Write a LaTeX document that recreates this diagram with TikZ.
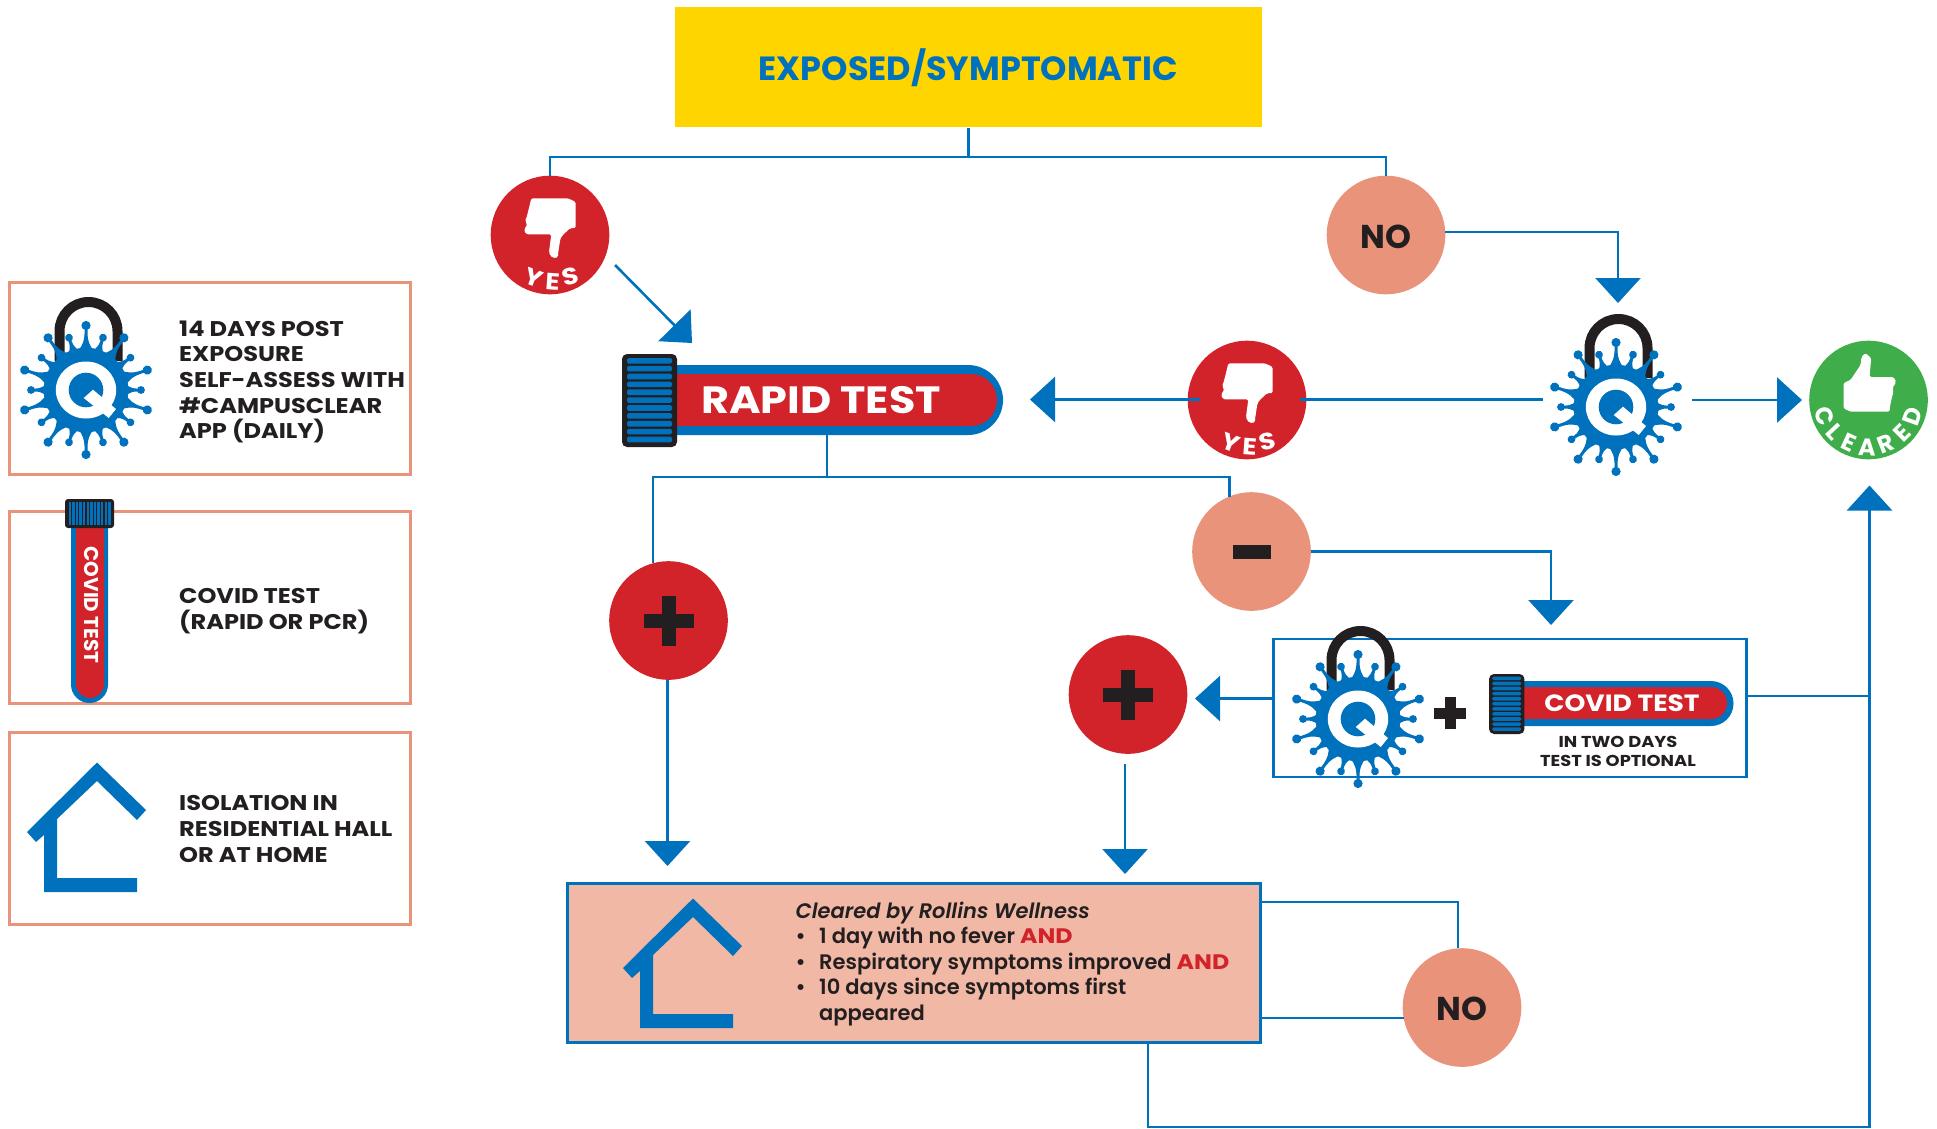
\documentclass[tikz,border=0pt]{standalone}
\usepackage{fontspec}
\setmainfont{Poppins}
\newfontfamily\wpop{Poppins}[FakeStretch=1.13]
\newfontfamily\semipop{Poppins SemiBold}[ItalicFont={Poppins SemiBold Italic}]
\usetikzlibrary{arrows.meta}
\definecolor{qblue}{HTML}{0071BC}
\definecolor{qred}{HTML}{D2232A}
\definecolor{qsal}{HTML}{E8937A}
\definecolor{qpeach}{HTML}{F1B8A5}
\definecolor{qgreen}{HTML}{3FAE4A}
\definecolor{qyel}{HTML}{FFD500}
\definecolor{qdark}{HTML}{231F20}
\newcommand{\qand}{\textcolor{qred}{\wpop\bfseries AND}}
\tikzset{
  conn/.style={draw=qblue,line width=2.6pt},
  arr/.style={conn,-{Triangle[length=25pt,width=45pt]}},
  disc/.style={circle,minimum size=118.6pt,inner sep=0pt,outer sep=0pt},
  legendbox/.style={draw=qsal,line width=3pt,fill=white},
  legendtxt/.style={anchor=west,align=left,inner sep=0pt,text=qdark,font=\wpop\fontsize{21.3}{25.7}\selectfont\bfseries},
  notxt/.style={inner sep=0pt,text=qdark,font=\fontsize{33}{34}\selectfont\bfseries},
  sym/.style={fill=qdark},
  wlet/.style={text=white,inner sep=0pt,font=\wpop\fontsize{23.5}{24}\selectfont\bfseries},
  wletb/.style={wlet,font=\fontsize{24}{25}\selectfont\bfseries}
}
% virus padlock at x,y
\newcommand{\qvirus}[2]{%
 \begin{scope}[shift={(#1,#2)}]
  \draw[qdark,line width=10pt] (-26.5,-29) -- (-26.5,-59) arc[start angle=180,end angle=0,radius=29pt] -- (31.5,-29);
  \foreach \a in {0,36,...,324}{
   \fill[qblue,rotate=\a] (40pt,-5pt) .. controls (44pt,-3pt) and (46pt,-1.6pt) .. (50pt,-1.5pt) -- (55pt,-1.5pt) -- (55pt,1.5pt) -- (50pt,1.5pt) .. controls (46pt,1.6pt) and (44pt,3pt) .. (40pt,5pt) -- cycle;
   \fill[qblue,rotate=\a] (55pt,0pt) circle (3.9pt);}
  \foreach \a in {18,54,...,342}{
   \fill[qblue,rotate=\a] (39pt,-8pt) .. controls (45pt,-3pt) and (50pt,-1.7pt) .. (56pt,-1.5pt) -- (64.5pt,-1.5pt) -- (64.5pt,1.5pt) -- (56pt,1.5pt) .. controls (50pt,1.7pt) and (45pt,3pt) .. (39pt,8pt) -- cycle;
   \fill[qblue,rotate=\a] (64.5pt,0pt) circle (4.6pt);}
  \fill[qblue] (0,0) circle (42.3pt);
  \fill[white] (0,0) ellipse (30.2pt and 28.5pt);
  \fill[qblue] (0,0) circle (17.3pt);
  \fill[white] (-2.3,8) -- (7,-0.3) -- (30,19) -- (22.7,28) -- cycle;
 \end{scope}}
% house
\newcommand{\qhouse}[2]{%
 \fill[qblue,shift={(#1,#2)}] (97,764.5) -- (146,812) -- (137,822) -- (97,783) -- (57,821) -- (57,880) -- (137,880) -- (137,894) -- (44,894) -- (44,837) -- (36,844) -- (27,834) -- cycle;}
% horizontal cap, box 55 x 93 scaled
\newcommand{\qcap}[3]{%
 \begin{scope}[shift={(#1,#2)},xscale=#3,yscale=#3]
  \fill[qdark,rounded corners=5pt] (0,0) rectangle (55,93);
  \foreach \i in {0,...,10}{
   \fill[qblue,rounded corners=1.5pt] (5,{4+\i*7.87}) rectangle (50,{9.6+\i*7.87});}
 \end{scope}}
% thumb down, centred on a disc
\newcommand{\qthumbdown}[2]{%
 \begin{scope}[shift={(#1,#2)}]
  \fill[white,rounded corners=1.5pt] (-18.7,-36.7) -- (18,-36.7) -- (25.7,-33) -- (25.7,-7) -- (20,-6.7) .. controls (15,-2) and (11,1) .. (10,6) -- (8,19) .. controls (8,24) and (1,24) .. (-1,17) -- (1.3,-0.7) -- (-23.7,-0.7) -- (-26,-5) -- (-22.7,-10.7) -- (-25,-14) -- (-23.7,-16.7) -- (-22,-23) -- (-20.3,-30) -- cycle;
  \node[wlet,rotate=-20] (yy#1) at (-16,42.7) {Y};
  \node[wlet,rotate=-4] (ye#1) at (2.5,46.7) {E};
  \node[wlet,rotate=14] (ys#1) at (20,41.7) {S};
 \end{scope}}
\begin{document}
\begin{tikzpicture}[x=1pt,y=-1pt]
\useasboundingbox (0,0) rectangle (1937,1128);
% legend boxes
\draw[legendbox] (9,282) rectangle (410.5,474.5);
\draw[legendbox] (9,511.5) rectangle (410.5,703.5);
\draw[legendbox] (9,732) rectangle (410.5,924);
\qvirus{86}{390}
\node[legendtxt] (t1) at (179,382) {14 DAYS POST\\EXPOSURE\\SELF-ASSESS WITH\\\#CAMPUSCLEAR\\APP (DAILY)};
% legend tube
\fill[qblue] (71,525) -- (108,525) -- (108,684.5) arc[start angle=0,end angle=-180,radius=18.5pt] -- cycle;
\fill[qred] (76,525) -- (104,525) -- (104,684) arc[start angle=0,end angle=-180,radius=14pt] -- cycle;
\fill[qdark,rounded corners=3pt] (65,499) rectangle (114,528);
\foreach \i in {0,...,11}{\fill[qblue] ({68.5+\i*3.6},502) rectangle ({70.9+\i*3.6},525);}
\node[rotate=-90,text=white,inner sep=0pt,font=\fontsize{20}{20}\selectfont\bfseries] (t2a) at (92,605) {COVID TEST};
\node[legendtxt] (t2) at (179,611) {COVID TEST\\(RAPID OR PCR)};
% legend house
\qhouse{0}{-2}
\node[legendtxt] (t3) at (179,829) {ISOLATION IN\\RESIDENTIAL HALL\\OR AT HOME};
% top box
\node[fill=qyel,minimum width=587pt,minimum height=120pt,inner sep=0pt,text=qblue,font=\fontsize{33.5}{34}\selectfont\bfseries] (expo) at (968.3,67.3) {EXPOSED/SYMPTOMATIC};
% discs
\node[disc,fill=qred] (yes1) at (550,235) {};
\node[disc,fill=qsal] (no1) at (1386,235) {};
\node[notxt] (no1t) at (1386,236.7) {NO};
\node[disc,fill=qred] (yes2) at (1247,400) {};
\node[disc,fill=qgreen] (clr) at (1868.5,400) {};
\node[disc,fill=qsal] (minus) at (1251.5,551.5) {};
\node[disc,fill=qred] (plus1) at (668.5,620.5) {};
\node[disc,fill=qred] (plus2) at (1128,694.5) {};
\node[disc,fill=qsal] (no2) at (1462,1007.5) {};
\node[notxt] (no2t) at (1462,1009.2) {NO};
% peach box
\node[draw=qblue,line width=3pt,fill=qpeach,minimum width=693pt,minimum height=159pt,inner sep=0pt] (peach) at (913.5,962.5) {};
\qhouse{596}{134}
\node[anchor=west,align=left,inner sep=0pt,text=qdark,font=\semipop\fontsize{21}{25.5}\selectfont] (ptxt) at (795.5,964) {\textit{Cleared by Rollins Wellness}\\\makebox[23.5pt][l]{•}1 day with no fever \qand\\\makebox[23.5pt][l]{•}Respiratory symptoms improved \qand\\\makebox[23.5pt][l]{•}10 days since symptoms first\\\hspace*{23.5pt}appeared};
% small box
\node[draw=qblue,line width=2.6pt,fill=white,minimum width=473pt,minimum height=138pt,inner sep=0pt] (optbox) at (1510,708) {};
\qvirus{1358}{719}
\fill[sym] (1444.5,697) rectangle (1455.5,729);
\fill[sym] (1434,707.5) rectangle (1466,718.5);
\fill[qblue] (1520,681) -- (1711,681) arc[start angle=90,end angle=-90,radius=22.5pt] -- (1520,726) -- cycle;
\fill[qred] (1520,687) -- (1711,687) arc[start angle=90,end angle=-90,radius=16pt] -- (1520,719) -- cycle;
\qcap{1489}{674}{0.645}
\node[text=white,inner sep=0pt,font=\wpop\fontsize{23.5}{24}\selectfont\bfseries] (cv2) at (1622,703) {COVID TEST};
\node[text=qdark,inner sep=0pt,align=center,font=\wpop\fontsize{15.8}{19}\selectfont\bfseries] (two) at (1618,751.5) {IN TWO DAYS\\TEST IS OPTIONAL};
% rapid test tube
\fill[qblue] (670,365) -- (968,365) arc[start angle=90,end angle=-90,radius=35pt] -- (670,435) -- cycle;
\fill[qred] (670,374) -- (971,374) arc[start angle=90,end angle=-90,radius=26pt] -- (670,426) -- cycle;
\qcap{622}{354}{1}
\node[text=white,inner sep=0pt,font=\wpop\fontsize{38}{40}\selectfont\bfseries] (rapid) at (821,400) {RAPID TEST};
% second/third symbols
\qvirus{1616}{407}
\qthumbdown{550}{235}
\qthumbdown{1247}{400}
\fill[sym] (1232.5,544.5) rectangle (1270.5,558.5);
\fill[sym] (661.5,596) rectangle (675.5,646);
\fill[sym] (643.5,614) rectangle (693.5,628);
\fill[sym] (1121,669.5) rectangle (1135,719.5);
\fill[sym] (1103,687.5) rectangle (1153,701.5);
% cleared disc
\begin{scope}[shift={(1868.5,400)}]
 \fill[white,rounded corners=1.5pt] (-3.3,-47) -- (2.7,-42) -- (1,-23) -- (25,-23) -- (27.7,-18) -- (24,-12) -- (25,-8) -- (24,-5) -- (22,3.3) -- (21,11.7) -- (-18,11.7) -- (-25,8.3) -- (-25,-17) -- (-18,-20) -- (-8,-35) -- (-7,-43) -- cycle;
 \foreach \l/\a in {C/200,L/223,E/245,A/268,R/291,E/315,D/340}{
  \node[wletb,rotate=\a+90] (c\a) at ({47*cos(\a)},{-47*sin(\a)}) {\l};}
\end{scope}
% connectors
\coordinate (tophub) at (968.3,157);
\draw[conn] (expo.south) -- (tophub);
\draw[conn] (yes1.north) |- (tophub) -| (no1.north);
\coordinate (tipa) at (1618,303);
\draw[arr] (no1.3) -| (tipa);
\coordinate (ya) at (615,265);
\coordinate (tipb) at (692,343);
\draw[arr] (ya) -- (tipb);
\coordinate (tipc) at (1030,399.5);
\coordinate (ye) at (1200,399.5);
\draw[arr] (ye) -- (tipc);
\coordinate (va) at (1543,399.5);
\coordinate (yf) at (1300,399.5);
\draw[conn] (yf) -- (va);
\coordinate (vb) at (1692,400);
\coordinate (tipd) at (1802,400);
\draw[arr] (vb) -- (tipd);
\coordinate (rapidout) at (827,435);
\coordinate (rapidjoin) at (827,477);
\draw[conn] (rapidout) -- (rapidjoin);
\draw[conn] (plus1.105) |- (rapidjoin) -| (minus.112);
\coordinate (tipe) at (1551,625);
\draw[arr] (minus.east) -| (tipe);
\coordinate (pl) at (667.5,680);
\coordinate (tipf) at (667.5,866);
\draw[arr] (pl) -- (tipf);
\coordinate (boxl) at (1273.5,698.5);
\coordinate (tipg) at (1195,698.5);
\draw[arr] (boxl) -- (tipg);
\coordinate (pa) at (1125,764);
\coordinate (tiph) at (1125,874);
\draw[arr] (pa) -- (tiph);
\coordinate (pb) at (1260,902);
\draw[conn] (pb) -| (no2.94);
\draw[conn] (no2.190) -- (peach.east |- no2.190);
\coordinate (pc) at (1148,1044);
\coordinate (pd) at (1148,1127);
\coordinate (tipi) at (1869.5,485.5);
\draw[arr] (pc) -- (pd) -| (tipi);
\coordinate (boxr) at (1747,696);
\coordinate (boxj) at (1869.5,696);
\draw[conn] (boxr) -- (boxj);
\end{tikzpicture}
\end{document}
